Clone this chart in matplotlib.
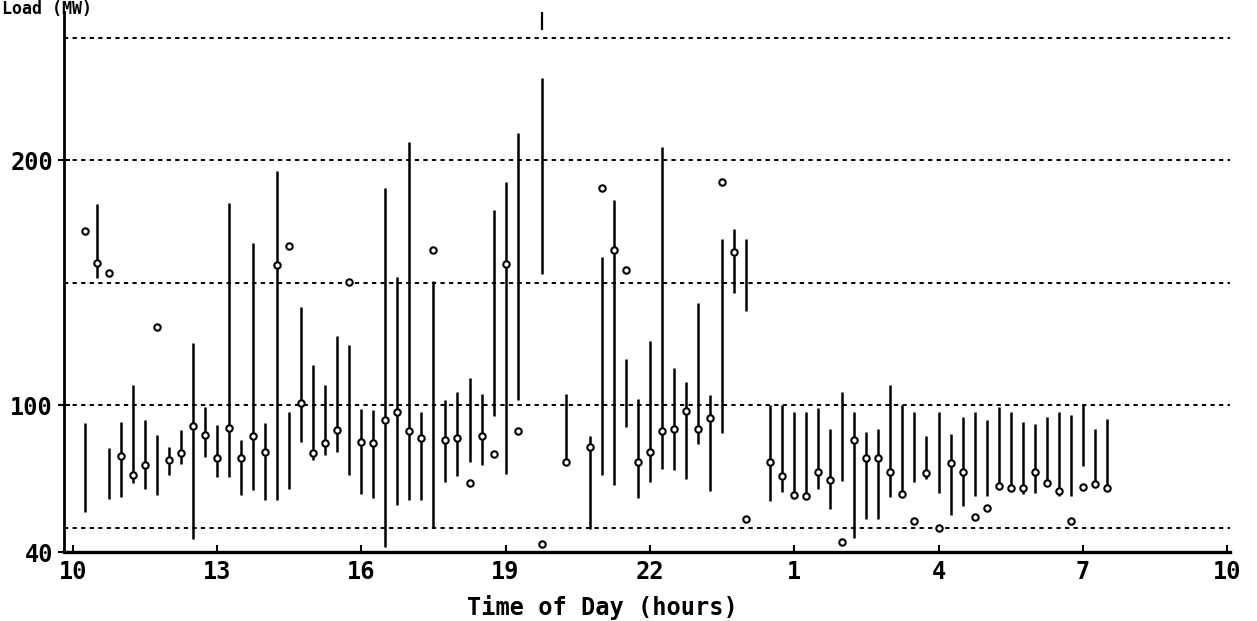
import matplotlib
matplotlib.use("Agg")
import matplotlib.pyplot as plt

# Time of day in hours (values after midnight continue past 24)
hours = [10.25, 10.5, 10.75, 11.0, 11.25, 11.5, 11.75, 12.0, 12.25, 12.5, 12.75,
         13.0, 13.25, 13.5, 13.75, 14.0, 14.25, 14.5, 14.75, 15.0, 15.25, 15.5, 15.75,
         16.0, 16.25, 16.5, 16.75, 17.0, 17.25, 17.5, 17.75, 18.0, 18.25, 18.5, 18.75,
         19.0, 19.25, 19.75, 20.25, 20.75, 21.0, 21.25, 21.5, 21.75,
         22.0, 22.25, 22.5, 22.75, 23.0, 23.25, 23.5, 23.75, 24.0,
         24.5, 24.75, 25.0, 25.25, 25.5, 25.75, 26.0, 26.25, 26.5, 26.75,
         27.0, 27.25, 27.5, 27.75, 28.0, 28.25, 28.5, 28.75, 29.0, 29.25, 29.5, 29.75,
         30.0, 30.25, 30.5, 30.75, 31.0, 31.25, 31.5]

range_high = [92.8, 181.9, 82.3, 93.2, 108.2, 93.9, 87.7, 83.0, 89.8, 125.2, 99.3,
              91.8, 182.5, 85.7, 166.2, 92.5, 195.5, 97.3, 140.2, 116.4, 108.2, 128.0, 124.6,
              98.5, 97.8, 188.5, 152.2, 207.3, 97.0, 150.7, 102.2, 105.2, 111.2, 104.5, 179.7,
              190.9, 211.0, 233.4, 104.5, 87.3, 160.4, 183.6, 118.7, 102.5,
              126.0, 205.5, 115.1, 109.6, 141.8, 104.1, 167.8, 171.9, 167.8,
              100.0, 100.0, 97.3, 97.2, 98.6, 90.4, 105.5, 97.3, 89.0, 90.4,
              108.2, 100.0, 97.3, 87.3, 97.2, 88.3, 95.2, 97.2, 93.8, 99.3, 97.2, 93.1,
              92.4, 95.2, 97.2, 95.9, 100.0, 90.4, 94.5]

range_low = [56.3, 151.8, 61.8, 62.5, 68.0, 65.9, 63.2, 71.4, 76.1, 45.4, 78.9,
             70.7, 70.7, 63.2, 65.2, 61.1, 61.1, 65.9, 85.0, 77.5, 79.5, 80.9, 71.4,
             63.5, 62.0, 41.9, 59.0, 61.3, 61.3, 50.1, 68.7, 70.9, 76.9, 75.4, 95.5,
             71.7, 102.2, 153.7, 76.9, 49.3, 71.6, 67.2, 91.0, 62.1,
             68.5, 74.0, 73.3, 69.9, 84.2, 65.1, 88.4, 145.9, 138.4,
             61.0, 64.4, 62.8, 62.5, 65.7, 57.4, 69.1, 45.8, 53.6, 53.3,
             62.5, 62.5, 68.4, 69.8, 64.2, 55.2, 58.7, 62.8, 62.8, 66.9, 65.6, 63.5,
             64.2, 66.9, 62.8, 62.8, 75.2, 68.3, 65.6]

point_load = [170.9, 158.0, 153.9, 79.1, 71.4, 75.4, 132.0, 77.5, 80.6, 91.5, 87.7,
              78.2, 90.5, 78.2, 87.5, 80.9, 157.3, 164.8, 100.7, 80.6, 84.7, 90.0, 150.1,
              85.1, 84.4, 94.0, 97.0, 89.6, 86.6, 163.4, 85.8, 86.6, 68.0, 87.3, 79.9,
              157.4, 89.6, 43.4, 76.9, 82.8, 188.8, 163.4, 155.2, 76.8,
              80.8, 89.3, 90.4, 97.5, 90.4, 94.8, 191.1, 162.3, 53.4,
              76.7, 71.2, 63.2, 62.9, 72.5, 69.5, 44.0, 85.7, 78.3, 78.5,
              72.5, 63.6, 52.5, 72.2, 50.0, 76.3, 72.7, 54.3, 58.0, 66.9, 66.3, 66.3,
              72.5, 68.0, 64.9, 52.5, 66.5, 67.9, 66.3]

# off-scale segment at the top near 19:45
extra_hour = [19.75]
extra_low = [253.0]
extra_high = [275.0]

xtick_pos = [10, 13, 16, 19, 22, 25, 28, 31, 34]
xtick_labels = ["10", "13", "16", "19", "22", "1", "4", "7", "10"]
ytick_pos = [40, 100, 200]
ytick_labels = ["40", "100", "200"]
grid_levels = [50, 100, 150, 200, 250]

W, H = 1257, 621
fig = plt.figure(figsize=(W / 100, H / 100), dpi=100)
ax = fig.add_axes([64 / W, (H - 552) / H, (1230 - 64) / W, (552 - 12) / H])

ax.set_xlim(9.82, 34.06)
ax.set_ylim(40, 260.5)

for g in grid_levels:
    ax.axhline(g, color="black", lw=1.4, ls=(0, (2.2, 2.2)), zorder=1)

ax.vlines(hours, range_low, range_high, colors="black", lw=1.8, zorder=2)
ax.vlines(extra_hour, extra_low, extra_high, colors="black", lw=1.6, zorder=2)
ax.plot(hours, point_load, ls="none", marker="o", ms=4.6, mfc="white",
        mec="black", mew=1.5, zorder=3)

for side in ("top", "right"):
    ax.spines[side].set_visible(False)
ax.spines["left"].set_linewidth(2)
ax.spines["bottom"].set_linewidth(2.4)

mono = {"family": "DejaVu Sans Mono", "weight": "bold", "size": 17}
ax.set_xticks(xtick_pos)
ax.set_xticklabels(xtick_labels, fontdict=mono)
ax.set_yticks(ytick_pos)
ax.set_yticklabels(ytick_labels, fontdict=mono)
ax.tick_params(axis="x", direction="in", length=5, width=1.5, pad=6)
ax.tick_params(axis="y", direction="inout", length=8, width=1.5, pad=4)

fig.text(602 / W, (H - 615) / H, "Time of Day (hours)", ha="center",
         va="baseline", family="DejaVu Sans Mono", weight="bold", size=17)
fig.text(2 / W, (H - 14) / H, "Load (MW)", ha="left", va="baseline",
         family="DejaVu Sans Mono", weight="bold", size=12)

fig.savefig("out.png", dpi=100, facecolor="white")
